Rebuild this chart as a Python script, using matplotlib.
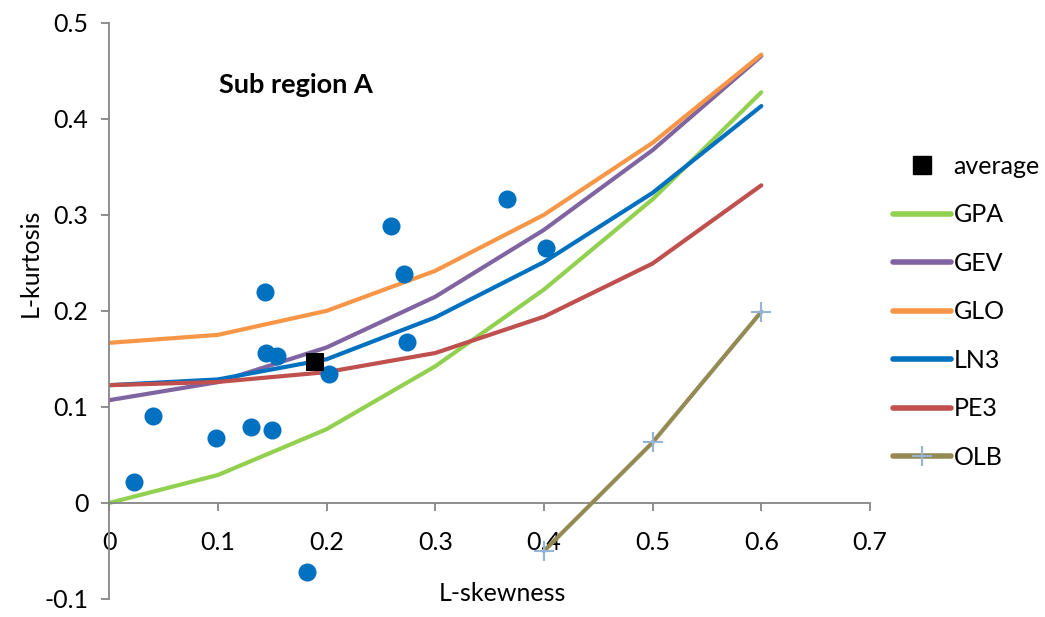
import numpy as np
import matplotlib.pyplot as plt
from matplotlib.lines import Line2D

plt.rcParams['font.family'] = ['Lato', 'DejaVu Sans']

# sample L-moment ratios for the stations
skew_obs = [0.023, 0.040, 0.098, 0.130, 0.150, 0.143, 0.144, 0.154, 0.182, 0.202,
            0.259, 0.271, 0.274, 0.366, 0.402]
kurt_obs = [0.022, 0.090, 0.068, 0.079, 0.076, 0.220, 0.156, 0.153, -0.072, 0.134,
            0.288, 0.238, 0.168, 0.316, 0.265]

avg_skew = [0.189]
avg_kurt = [0.147]

# theoretical L-kurtosis of each distribution
tau3 = [0.0, 0.1, 0.2, 0.3, 0.4, 0.5, 0.6]
gpa = [0.0, 0.0291, 0.0768, 0.1423, 0.2222, 0.3162, 0.4276]
gev = [0.1070, 0.1258, 0.1619, 0.2147, 0.2843, 0.3674, 0.4653]
glo = [0.1667, 0.1750, 0.2000, 0.2417, 0.3000, 0.3750, 0.4667]
ln3 = [0.1226, 0.1286, 0.1496, 0.1932, 0.2508, 0.3229, 0.4132]
pe3 = [0.1226, 0.1260, 0.1362, 0.1561, 0.1939, 0.2493, 0.3307]

olb_skew = [0.4, 0.5, 0.6]
olb_kurt = [-0.05, 0.063, 0.199]

series = [('GPA', gpa, '#92D050'), ('GEV', gev, '#8064A2'), ('GLO', glo, '#F79646'),
          ('LN3', ln3, '#0070C0'), ('PE3', pe3, '#C0504D')]

FS = 18

fig = plt.figure(figsize=(10.45, 6.17), dpi=100)
ax = fig.add_axes([0.1046, 0.0292, 0.7279, 0.934])

for name, vals, col in series:
    ax.plot(tau3, vals, color=col, lw=3, solid_capstyle='round', zorder=2)
ax.plot(olb_skew, olb_kurt, color='#948A54', lw=3, marker='+', ms=15, mew=1.5,
        mec='#95B3D7', zorder=3)
ax.plot(skew_obs, kurt_obs, 'o', color='#0070C0', ms=13, mew=0, zorder=4)
ax.plot(avg_skew, avg_kurt, 's', color='black', ms=13, mew=0, zorder=5)

ax.set_xlim(0, 0.7)
ax.set_ylim(-0.1, 0.5)
ax.set_xticks(np.arange(0, 0.71, 0.1))
ax.set_yticks(np.arange(-0.1, 0.51, 0.1))
ax.set_xticklabels(['0', '0.1', '0.2', '0.3', '0.4', '0.5', '0.6', '0.7'])
ax.set_yticklabels(['-0.1', '0', '0.1', '0.2', '0.3', '0.4', '0.5'])

for s in ['top', 'right']:
    ax.spines[s].set_visible(False)
ax.spines['bottom'].set_position(('data', 0))
for s in ['left', 'bottom']:
    ax.spines[s].set_color('#868686')
    ax.spines[s].set_linewidth(1.3)
ax.tick_params(colors='#868686', length=6, width=1.3, labelcolor='black', labelsize=FS)
ax.tick_params(axis='x', pad=14)
ax.tick_params(axis='y', pad=9)

ax.text(0.517, 0.009, 'L-skewness', transform=ax.transAxes, fontsize=FS,
        ha='center', va='center')
ax.text(-0.104, 0.584, 'L-kurtosis', transform=ax.transAxes, fontsize=FS,
        ha='center', va='center', rotation=90)

ax.text(0.101, 0.435, 'Sub region A', fontsize=19.5, fontweight='bold', va='center')

handles = [Line2D([], [], ls='none', marker='s', color='black', ms=13)]
labels = ['average']
for name, vals, col in series:
    handles.append(Line2D([], [], color=col, lw=4, solid_capstyle='round'))
    labels.append(name)
handles.append(Line2D([], [], color='#948A54', lw=4, marker='+', ms=15, mew=1.5,
                      mec='#95B3D7', solid_capstyle='round'))
labels.append('OLB')

leg = fig.legend(handles, labels, loc='upper left', bbox_to_anchor=(0.845, 0.765),
                 frameon=False, fontsize=FS, handlelength=2.3, handletextpad=0.12,
                 labelspacing=1.02, borderaxespad=0)

fig.savefig('out.png', dpi=100)
